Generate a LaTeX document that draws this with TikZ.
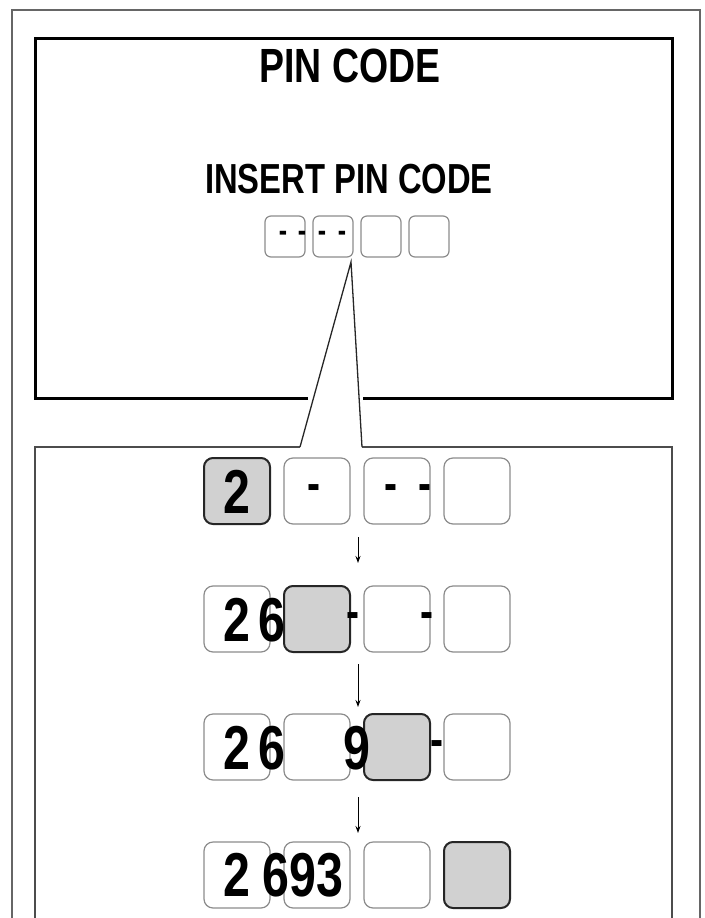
\documentclass[tikz,border=0pt]{standalone}
\usepackage{fontspec}
\setmainfont{Liberation Sans}[FakeStretch=0.78]
\usetikzlibrary{arrows.meta}
\begin{document}
\begin{tikzpicture}[x=1pt,y=-1pt,
  cell/.style={draw=black!45,line width=1.2pt,rounded corners=9pt,fill=white},
  hcell/.style={draw=black!85,line width=2pt,rounded corners=9pt,fill=black!18},
  scell/.style={draw=black!45,line width=1.2pt,rounded corners=6pt},
  dig/.style={font=\bfseries\fontsize{62}{62}\selectfont,inner sep=0pt},
  dsh/.style={font=\bfseries\fontsize{50}{50}\selectfont,inner sep=0pt},
  sdsh/.style={font=\bfseries\fontsize{32}{32}\selectfont,inner sep=0pt},
  arr/.style={-{Stealth[length=7pt,width=5pt]},line width=1pt}]
\useasboundingbox (0,0) rectangle (704,918);
\draw[black!60,line width=1.5pt] (12,918) -- (12,10) -- (700,10) -- (700,918);
\draw[line width=3pt] (308,398) -- (35,398) -- (35,38) -- (672,38) -- (672,398) -- (363,398);
\draw[black!70,line width=1.5pt] (35,918) -- (35,447) -- (300,447);
\draw[black!70,line width=1.5pt] (362,447) -- (672,447) -- (672,918);
\node[font=\bfseries\fontsize{48}{48}\selectfont] (t) at (350,66) {PIN CODE};
\node[font=\bfseries\fontsize{42}{42}\selectfont] (s) at (349,179) {INSERT PIN CODE};
% small cells
\foreach \i/\x in {1/285,2/333,3/381,4/429}
  \draw[scell] (\x-20,216) rectangle (\x+20,257) coordinate (sc\i);
\foreach \x in {283,302,322,342}
  \node[sdsh] at (\x,236) {-};
\coordinate (tip) at (351,262);
\draw[black!85,line width=1.3pt] (300,447) -- (tip) -- (362,447);
% rows
\foreach \r/\y in {1/491,2/619,3/747,4/875}{
  \foreach \c/\x in {1/237,2/317,3/397,4/477}
    \draw[cell] (\x-33,\y-33) rectangle (\x+33,\y+33);
}
\draw[hcell] (204,458) rectangle (270,524);
\draw[hcell] (284,586) rectangle (350,652);
\draw[hcell] (364,714) rectangle (430,780);
\draw[hcell] (444,842) rectangle (510,908);
% row 1
\node[dig] at (237,492) {2};
\node[dsh] at (314,493) {-};
\node[dsh] at (391,493) {-};
\node[dsh] at (425,493) {-};
% row 2
\node[dig] at (237,620) {2};
\node[dig] at (272,620) {6};
\node[dsh] at (353,621) {-};
\node[dsh] at (427,621) {-};
% row 3
\node[dig] at (237,748) {2};
\node[dig] at (272,748) {6};
\node[dig] at (357,748) {9};
\node[dsh] at (437,749) {-};
% row 4
\node[dig] at (237,875) {2};
\node[dig] at (303,875) {693};
% arrows
\coordinate (a1) at (358,537); \coordinate (b1) at (358,563);
\coordinate (a2) at (358,664); \coordinate (b2) at (358,707);
\coordinate (a3) at (358,797); \coordinate (b3) at (358,833);
\draw[arr] (a1) -- (b1);
\draw[arr] (a2) -- (b2);
\draw[arr] (a3) -- (b3);
\end{tikzpicture}
\end{document}
